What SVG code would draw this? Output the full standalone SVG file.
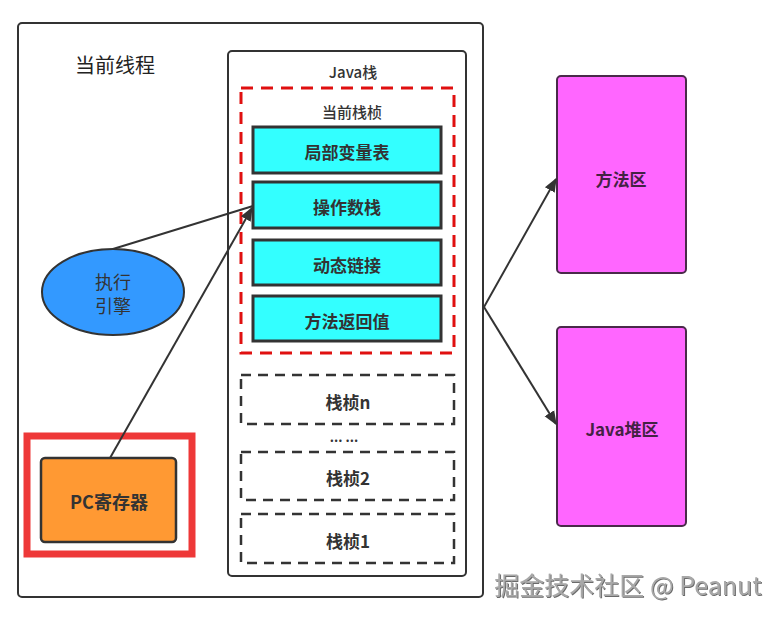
<svg xmlns="http://www.w3.org/2000/svg" width="782" height="617" viewBox="0 0 782 617">
<style>
text{font-family:"Noto Sans CJK SC","Liberation Sans",sans-serif;fill:#333;text-anchor:middle;dominant-baseline:central}
.b{font-weight:bold}
.frame{fill:#fff;stroke:#333;stroke-width:2}
.cyan{fill:#33ffff;stroke:#333;stroke-width:3}
.dash{fill:#fff;stroke:#333;stroke-width:2.5;stroke-dasharray:10 7}
.mag{fill:#ff66ff;stroke:#4a2a4a;stroke-width:2}
.conn{stroke:#333;stroke-width:2;fill:none}
</style>
<defs>
<marker id="ahb" viewBox="0 0 10 10" refX="9" refY="5" markerWidth="14" markerHeight="14" markerUnits="userSpaceOnUse" orient="auto">
<path d="M0,1 L10,5 L0,9 z" fill="#333"/>
</marker>
<filter id="sh" x="-5%" y="-20%" width="110%" height="140%">
<feDropShadow dx="1" dy="1" stdDeviation="0.4" flood-color="#444" flood-opacity="0.8"/>
</filter>
</defs>
<rect width="782" height="617" fill="#fff"/>
<g id="thread">
<rect class="frame" x="18" y="23" width="465" height="574" rx="4"/>
<text x="115" y="64" style="font-size:20px;fill:#222">当前线程</text>
</g>
<g id="java-stack">
<rect class="frame" x="228" y="51" width="238" height="525" rx="4"/>
<text x="353" y="71" style="font-size:15px;font-weight:500">Java栈</text>
</g>
<g id="current-frame">
<rect x="241" y="88" width="213" height="265" fill="none" stroke="#e01010" stroke-width="3" stroke-dasharray="12 8"/>
<text x="352" y="111" style="font-size:15px;font-weight:500">当前栈桢</text>
</g>
<g id="local-vars">
<rect class="cyan" x="253" y="127" width="188" height="46"/>
<text class="b" x="347" y="151" style="font-size:17px">局部变量表</text>
</g>
<g id="operand-stack">
<rect class="cyan" x="253" y="182" width="188" height="46"/>
<text class="b" x="347" y="206" style="font-size:17px">操作数栈</text>
</g>
<g id="dynamic-link">
<rect class="cyan" x="253" y="240" width="188" height="45"/>
<text class="b" x="347" y="264" style="font-size:17px">动态链接</text>
</g>
<g id="return-addr">
<rect class="cyan" x="253" y="296" width="188" height="45"/>
<text class="b" x="347" y="320" style="font-size:17px">方法返回值</text>
</g>
<g id="frame-n">
<rect class="dash" x="241" y="375" width="213" height="49"/>
<text class="b" x="348" y="401" style="font-size:17px">栈桢n</text>
</g>
<g id="ellipsis">
<text class="b" x="344" y="436" style="font-size:13px">... ...</text>
</g>
<g id="frame-2">
<rect class="dash" x="241" y="452" width="213" height="48"/>
<text class="b" x="348" y="477" style="font-size:17px">栈桢2</text>
</g>
<g id="frame-1">
<rect class="dash" x="241" y="514" width="213" height="49"/>
<text class="b" x="348" y="540" style="font-size:17px">栈桢1</text>
</g>
<g id="engine">
<ellipse cx="113" cy="292" rx="71" ry="43" fill="#3399ff" stroke="#333" stroke-width="2"/>
<text x="113" y="281" style="font-size:18px">执行</text>
<text x="113" y="305" style="font-size:18px">引擎</text>
</g>
<g id="pc-register">
<rect x="27" y="436" width="165" height="118" fill="none" stroke="#ee3838" stroke-width="7"/>
<rect x="41" y="458" width="135" height="84" rx="4" fill="#ff9933" stroke="#333" stroke-width="2.5"/>
<text class="b" x="109" y="501" style="font-size:18px">PC寄存器</text>
</g>
<g id="method-area">
<rect class="mag" x="557" y="76" width="129" height="197" rx="4"/>
<text class="b" x="621" y="178" style="font-size:17px;fill:#442244">方法区</text>
</g>
<g id="heap">
<rect class="mag" x="557" y="327" width="129" height="199" rx="4"/>
<text class="b" x="622" y="428" style="font-size:17px;fill:#442244">Java堆区</text>
</g>
<g id="connectors">
<line class="conn" x1="113" y1="249" x2="253" y2="206"/>
<line class="conn" x1="110" y1="458" x2="252" y2="208" marker-end="url(#ahb)"/>
<line class="conn" x1="484" y1="307" x2="556" y2="179" marker-end="url(#ahb)"/>
<line class="conn" x1="484" y1="307" x2="556" y2="424" marker-end="url(#ahb)"/>
</g>
<text x="628" y="584" filter="url(#sh)" style="font-size:25px;fill:#a8a8a8;font-family:'Noto Sans CJK SC','Liberation Sans',sans-serif">掘金技术社区 @ Peanut</text>
</svg>
